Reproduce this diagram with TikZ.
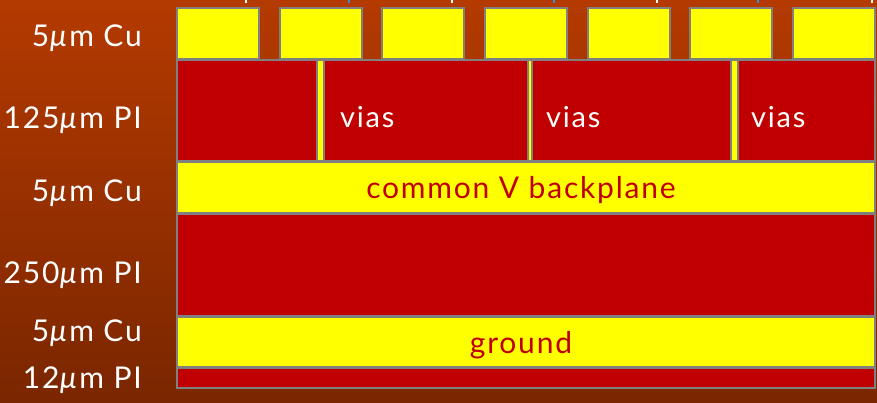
\documentclass[tikz,border=0pt]{standalone}
\usepackage{fontspec}
\setmainfont{Lato}[LetterSpace=6]
\definecolor{bgtop}{RGB}{180,58,0}
\definecolor{bgbot}{RGB}{122,38,0}
\definecolor{piR}{RGB}{192,0,0}
\definecolor{cuY}{RGB}{255,255,0}
\definecolor{edge}{RGB}{128,128,128}
\definecolor{tick}{RGB}{40,150,210}
\tikzset{
  cu/.style={fill=cuY,draw=edge,line width=2pt},
  pil/.style={fill=piR,draw=edge,line width=2pt},
  lbl/.style={text=white,font=\fontsize{30}{32}\selectfont,anchor=base east,inner sep=0pt},
  vlbl/.style={text=white,font=\fontsize{29}{31}\selectfont,anchor=base west,inner sep=0pt},
  clbl/.style={text=piR,font=\fontsize{30}{32}\selectfont,anchor=base,inner sep=0pt}
}
\newcommand{\um}{\textit{µ}m}
\begin{document}
\begin{tikzpicture}[x=1pt,y=-1pt]
\shade[top color=bgtop,bottom color=bgbot] (0,0) rectangle (877,403);
\useasboundingbox (0,0) rectangle (877,403);
% small marks at top edge
\foreach \xx in {245,451,656,871} \fill[white] (\xx,0) rectangle ++(2,3);
\foreach \xx in {348,553,757} \fill[tick] (\xx,0) rectangle ++(2,3);
% layers
\draw[pil] (177,60) rectangle (875,161.5);
\foreach \i in {0,...,6} \draw[cu] ({177+102.67*\i},8) rectangle ++(82,51);
\draw[cu] (317,60) rectangle (324,161.5);
\draw[cu] (527.5,60) rectangle (532,161.5);
\draw[cu] (731,60) rectangle (737.5,161.5);
\draw[cu] (177,162.5) rectangle (875,213.5);
\draw[pil] (177,214.5) rectangle (875,315.5);
\draw[cu] (177,316.5) rectangle (875,367);
\draw[pil] (177,368) rectangle (875,388);
% labels
\node[lbl] (l1) at (142,46.7) {5\um\ Cu};
\node[lbl] (l2) at (142,128.3) {125\um\ PI};
\node[lbl] (l3) at (142,201.7) {5\um\ Cu};
\node[lbl] (l4) at (142,283) {250\um\ PI};
\node[lbl] (l5) at (142,341.7) {5\um\ Cu};
\node[lbl] (l6) at (142,388) {12\um\ PI};
\node[vlbl] (v1) at (340,127.5) {vias};
\node[vlbl] (v2) at (546,127.5) {vias};
\node[vlbl] (v3) at (751,127.5) {vias};
\node[clbl] (bp) at (521,199) {common V backplane};
\node[clbl] (gr) at (521,353.3) {ground};
\end{tikzpicture}
\end{document}
